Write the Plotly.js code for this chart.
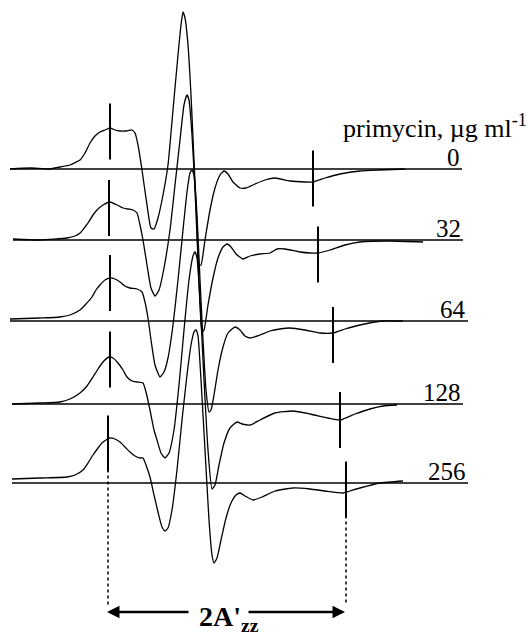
<!DOCTYPE html>
<html><head><meta charset="utf-8">
<script src="https://cdn.plot.ly/plotly-3.0.1.min.js"></script>
<style>html,body{margin:0;padding:0;background:#fff}</style>
</head><body><div id="chart" style="width:529px;height:635px"></div>
<script>
// primycin concentrations (µg/ml) labelling each spectrum
const concentrations = ["0", "32", "64", "128", "256"];
// vertical stacking offset of each spectrum's baseline (plot units, downward)
const offsets = [169, 240, 321, 404, 483];
// baseline extent (field units)
const baseStart = [10, 13, 10, 12, 12];
const baseEnd = [462, 463, 468, 463, 468];

// EPR first-derivative spectra: field (arb. units) and signal (arb. units)
const field0 = [10,30,50,60,70,80,85,90,95,100,105,110,115,120,126,132,135,138,142,147,151,154,158,163,168,173,178,181,183,185,188,191,194,197,199,201,205,210,215,220,224,228,233,240,246,255,265,275,290,305,313,325,340,360,380,405];
const signal0 = [0,1,0,2,4,9,16,26,33,37,39,41,39,38,38,39,36,24,-1,-36,-59,-60,-49,-26,4,59,114,144,157,151,124,74,9,-56,-96,-96,-71,-41,-19,-6,-2,-5,-13,-19,-19,-15,-11,-9,-12,-13,-13,-9,-5,-2,-1,0];

const field32 = [13,40,67,75,80,85,88,93,97,103,110,117,123,128,133,137,140,143,147,151,155,159,164,170,175,180,184,187,189,192,195,198,200,202,204,208,213,218,223,227,231,236,243,250,260,270,277,285,300,310,318,330,345,360,390,423];
const signal32 = [1,0,2,4,7,13,17,25,30,35,38,35,32,31,30,27,15,0,-25,-48,-56,-50,-28,10,55,100,135,145,140,105,50,-20,-65,-92,-90,-65,-38,-18,-7,-4,-7,-14,-19,-16,-14,-13,-9,-9,-12,-13,-13,-10,-5,-2,-1,-2];

const field64 = [10,40,60,70,80,86,92,96,100,105,110,115,120,125,130,137,142,145,148,151,155,160,164,168,173,178,183,187,190,192,194,197,200,203,206,209,211,214,218,223,228,235,240,245,250,260,270,280,290,305,320,333,345,360,383,403];
const signal64 = [2,3,4,6,11,17,24,31,36,41,43,42,39,35,33,32,29,19,3,-19,-44,-56,-51,-37,-4,41,91,129,148,151,146,106,41,-19,-69,-91,-89,-74,-49,-26,-12,-6,-9,-15,-17,-14,-10,-8,-7,-9,-12,-12,-8,-4,0,0];

const field128 = [12,40,60,70,80,87,93,98,103,109,113,118,123,127,132,137,143,146,150,154,157,161,165,169,174,179,184,189,193,195,197,200,204,208,212,215,219,224,230,237,242,250,260,275,293,310,328,340,355,370,383,397];
const signal128 = [0,1,2,5,11,18,27,35,42,47,46,41,34,27,23,22,21,12,-6,-26,-36,-49,-54,-49,-26,19,74,124,148,152,146,104,24,-46,-85,-81,-61,-39,-24,-18,-20,-21,-16,-9,-7,-10,-14,-16,-10,-5,-2,-1];

const field256 = [12,40,67,75,83,88,93,98,102,106,110,115,120,125,130,135,140,143,146,150,154,158,162,165,168,172,177,182,187,191,194,196,198,201,205,209,212,214,217,221,226,231,236,240,245,253,262,275,293,310,325,343,350,360,380,403];
const signal256 = [4,5,6,8,13,20,28,35,40,43,45,44,41,36,31,27,25,25,18,6,-12,-29,-44,-48,-45,-27,13,63,108,138,151,153,147,103,33,-37,-72,-80,-75,-57,-35,-20,-12,-10,-13,-17,-14,-8,-5,-6,-8,-10,-8,-5,0,2];

// outer hyperfine extrema markers (2A'zz): field and signal level
const leftTickField = [110, 109, 110, 110, 108];
const leftTickSignal = [37.5, 32, 38, 44.5, 39.5];
const rightTickField = [313, 318, 333, 340, 346];
const rightTickSignal = [-9.5, -14.5, -14, -16, -6.5];

const fields = [field0, field32, field64, field128, field256];
const signals = [signal0, signal32, signal64, signal128, signal256];

const FONT = "Liberation Serif";
const TICK_LEN = 40;
const traces = [];
const annotations = [];
const shapes = [];

for (let i = 0; i < concentrations.length; i++) {
  traces.push({
    x: [baseStart[i], baseEnd[i]], y: [-offsets[i], -offsets[i]],
    mode: "lines", line: {color: "#000", width: 1.5}, hoverinfo: "skip", showlegend: false
  });
  traces.push({
    x: fields[i], y: signals[i].map(v => v - offsets[i]),
    mode: "lines", line: {color: "#000", width: 1.3, shape: "spline", smoothing: 0.5},
    showlegend: false
  });
  traces.push({
    x: [leftTickField[i], rightTickField[i]],
    y: [leftTickSignal[i] - offsets[i], rightTickSignal[i] - offsets[i]],
    mode: "markers",
    marker: {symbol: "line-ns-open", size: TICK_LEN, color: "#000", line: {color: "#000", width: 2}},
    showlegend: false, hoverinfo: "skip"
  });
  annotations.push({
    x: baseEnd[i], y: -offsets[i], xref: "x", yref: "y",
    text: concentrations[i], showarrow: false,
    xanchor: "right", yanchor: "bottom", yshift: -4,
    font: {family: FONT, size: 25, color: "#000"}
  });
}

const last = concentrations.length - 1;
const arrowY = -612;
const dotBottom = -605;
shapes.push({type: "line", xref: "x", yref: "y",
  x0: leftTickField[last], x1: leftTickField[last],
  y0: leftTickSignal[last] - offsets[last] - TICK_LEN / 2, y1: dotBottom,
  line: {color: "#000", width: 1.5, dash: "dot"}});
shapes.push({type: "line", xref: "x", yref: "y",
  x0: rightTickField[last], x1: rightTickField[last],
  y0: rightTickSignal[last] - offsets[last] - TICK_LEN / 2, y1: dotBottom,
  line: {color: "#000", width: 1.5, dash: "dot"}});

annotations.push({
  x: leftTickField[last] - 1, y: arrowY, ax: 190, ay: arrowY,
  xref: "x", yref: "y", axref: "x", ayref: "y", text: "",
  showarrow: true, arrowhead: 2, arrowsize: 1, arrowwidth: 2.5, arrowcolor: "#000", standoff: 0
});
annotations.push({
  x: rightTickField[last] - 1, y: arrowY, ax: 247, ay: arrowY,
  xref: "x", yref: "y", axref: "x", ayref: "y", text: "",
  showarrow: true, arrowhead: 2, arrowsize: 1, arrowwidth: 2.5, arrowcolor: "#000", standoff: 0
});
annotations.push({
  x: 229, y: -618, xref: "x", yref: "y", showarrow: false,
  text: "<b>2A'<sub>zz</sub></b>", xanchor: "center", yanchor: "middle",
  font: {family: FONT, size: 28, color: "#000"}
});
annotations.push({
  x: 529, y: -126, xref: "x", yref: "y", showarrow: false,
  text: "primycin, µg ml<sup>-1</sup>", xanchor: "right", yanchor: "middle",
  font: {family: FONT, size: 26, color: "#000"}
});

const layout = {
  width: 529, height: 635,
  margin: {l: 0, r: 0, t: 0, b: 0},
  paper_bgcolor: "#fff", plot_bgcolor: "#fff",
  font: {family: FONT},
  xaxis: {range: [0, 529], visible: false, fixedrange: true},
  yaxis: {range: [-635, 0], visible: false, fixedrange: true},
  showlegend: false,
  annotations: annotations,
  shapes: shapes
};

Plotly.newPlot("chart", traces, layout, {staticPlot: true, displayModeBar: false});
</script>
</body></html>
